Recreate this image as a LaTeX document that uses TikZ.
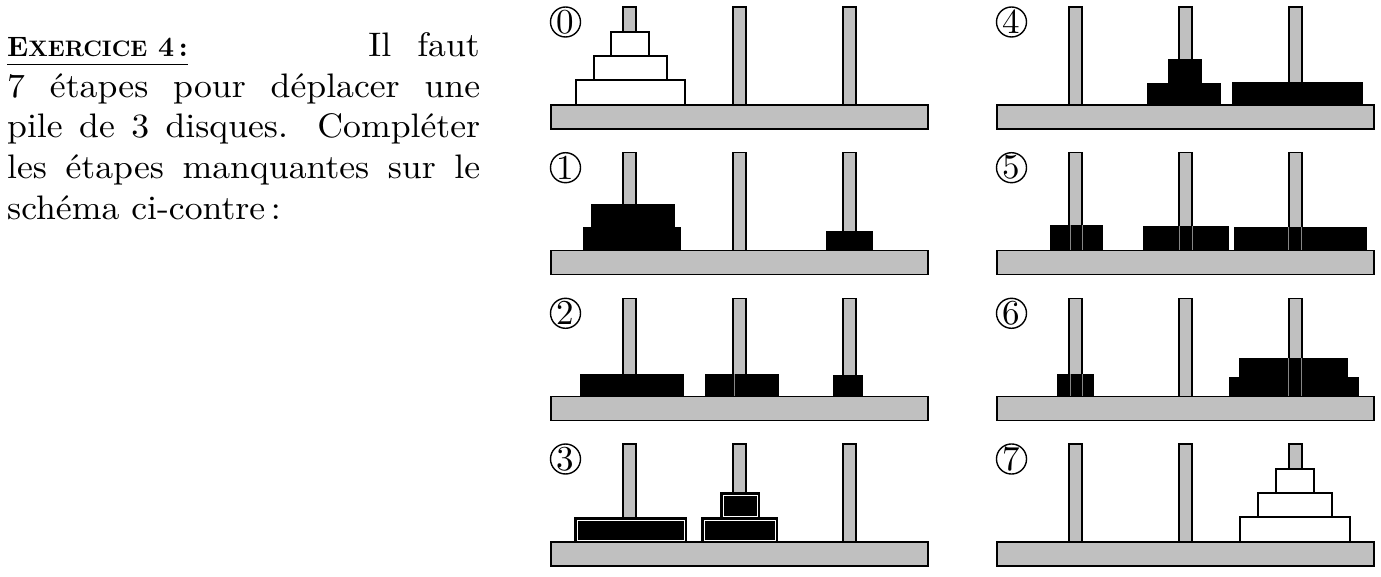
\documentclass[tikz,border=0pt]{standalone}
\usepackage{fontspec}
\setmainfont{lmroman10-regular.otf}[BoldFont=lmroman10-bold.otf, ItalicFont=lmroman10-italic.otf]
\newfontfamily\bodyfont{lmroman10-regular.otf}[FakeStretch=1.05]
\definecolor{pegray}{RGB}{192,192,192}
\tikzset{
  basebox/.style={draw=black, fill=pegray, line width=1.4pt},
  pegbox/.style={draw=black, fill=pegray, line width=1.2pt},
  diskbox/.style={draw=black, fill=white, line width=1.2pt},
  hidbox/.style={fill=black},
  hidframe/.style={draw=black, fill=black, line width=1.2pt},
  hidinner/.style={draw=white, line width=0.5pt},
  pegline/.style={draw=pegray!70!black, line width=0.5pt},
  numcirc/.style={circle, draw=black, line width=1.4pt, minimum size=30pt, inner sep=0pt, font=\fontsize{35}{36}\selectfont},
  bodytxt/.style={inner sep=0pt, font=\bodyfont\fontsize{34}{41}\selectfont}
}
\newcommand\hanoipanel[4]{%
  \begin{scope}[shift={(#1,#2)}]
    \draw[basebox] (551,105) rectangle (928,129);
    \foreach \c in {629.5,739.5,849.5}
      \draw[pegbox] (\c-6.5,7) rectangle (\c+6.5,105);
    \node[numcirc] (#4) at (565.5,22) {#3};
  \end{scope}}
\begin{document}
\begin{tikzpicture}[x=1pt,y=-1pt]
\useasboundingbox (0,0) rectangle (1381,577);
% ---------- text ----------
\node[inner sep=0pt, anchor=base west] (head) at (7,57)
  {\fontsize{28}{34}\selectfont\bfseries E{\fontsize{22.4}{28}\selectfont XERCICE}~4\,:};
\draw[line width=0.9pt] ([yshift=-7pt]head.base west) -- ([yshift=-7pt]head.base east);
\node[bodytxt, anchor=base east] (l1) at (480,57) {Il\hspace{26pt}faut};
\node[bodytxt, anchor=base west] (l2) at (7,98) {\makebox[473pt][s]{7 étapes pour déplacer une}};
\node[bodytxt, anchor=base west] (l3) at (7,138) {\makebox[473pt][s]{pile de 3 disques. Compléter}};
\node[bodytxt, anchor=base west] (l4) at (7,179) {\makebox[473pt][s]{les étapes manquantes sur le}};
\node[bodytxt, anchor=base west] (l5) at (7,220) {schéma ci-contre\,:};
% ---------- panels ----------
\hanoipanel{0}{0}{0}{c0}
\hanoipanel{0}{145.7}{1}{c1}
\hanoipanel{0}{291.3}{2}{c2}
\hanoipanel{0}{437}{3}{c3}
\hanoipanel{446}{0}{4}{c4}
\hanoipanel{446}{145.7}{5}{c5}
\hanoipanel{446}{291.3}{6}{c6}
\hanoipanel{446}{437}{7}{c7}
% ---------- step 0 ----------
\draw[diskbox] (576,80) rectangle (685,105);
\draw[diskbox] (594,56) rectangle (667,80);
\draw[diskbox] (611,32) rectangle (649,56);
% ---------- step 1 ----------
\fill[hidbox] (591,204) rectangle (675,227);
\fill[hidbox] (583,227) rectangle (681,250);
\fill[hidbox] (826,231) rectangle (873,250);
% ---------- step 2 ----------
\fill[hidbox] (580,374) rectangle (684,396);
\fill[hidbox] (705,374) rectangle (779,396);
\draw[pegline] (734,374) -- (734,396);
\fill[hidbox] (833,375) rectangle (863,396);
% ---------- step 3 ----------
\draw[hidframe] (575,518) rectangle (686,542);
\draw[hidinner] (577,520) rectangle (684,540);
\draw[hidframe] (702,518) rectangle (777,542);
\draw[hidinner] (704,520) rectangle (775,540);
\draw[hidframe] (721,493) rectangle (759,518);
\draw[hidinner] (723,495) rectangle (757,516);
% ---------- step 4 ----------
\fill[hidbox] (1168,59) rectangle (1202,83);
\fill[hidbox] (1147,83) rectangle (1221,104);
\fill[hidbox] (1232,82) rectangle (1363,104);
% ---------- step 5 ----------
\fill[hidbox] (1050,225) rectangle (1103,250);
\draw[pegline] (1070,225) -- (1070,250) (1082,225) -- (1082,250);
\fill[hidbox] (1143,226) rectangle (1229,250);
\draw[pegline] (1179,226) -- (1179,250) (1192,226) -- (1192,250);
\fill[hidbox] (1234,227) rectangle (1367,250);
\draw[pegline] (1288,227) -- (1288,250) (1301,227) -- (1301,250);
% ---------- step 6 ----------
\fill[hidbox] (1057,374) rectangle (1094,396);
\draw[pegline] (1070,374) -- (1070,396) (1082,374) -- (1082,396);
\fill[hidbox] (1239,358) rectangle (1348,377);
\fill[hidbox] (1229,377) rectangle (1359,396);
\draw[pegline] (1288,358) -- (1288,396) (1301,358) -- (1301,396);
% ---------- step 7 ----------
\draw[diskbox] (1240,517) rectangle (1350,542);
\draw[diskbox] (1258,493) rectangle (1332,517);
\draw[diskbox] (1276,469) rectangle (1314,493);
\end{tikzpicture}
\end{document}
